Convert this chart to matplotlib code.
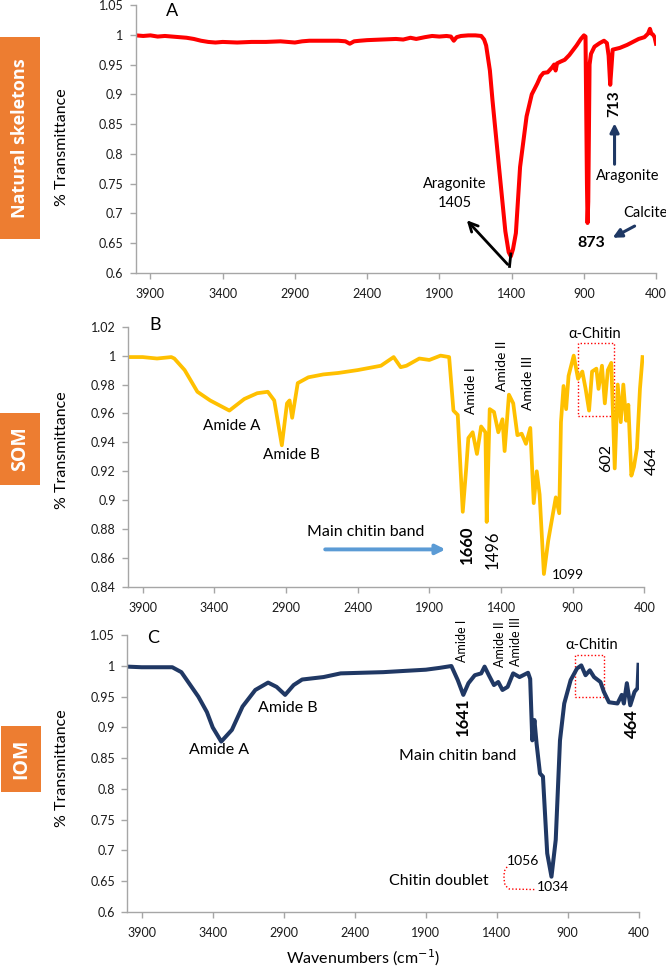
import matplotlib
matplotlib.use('Agg')
import matplotlib.pyplot as plt
from matplotlib.patches import Rectangle

plt.rcParams['font.family'] = ['Lato', 'DejaVu Sans']

# ---------------- data ----------------
x_ticks = [3900, 3400, 2900, 2400, 1900, 1400, 900, 400]

# Panel A: natural skeletons
A_wn = [4000, 3950, 3900, 3850, 3800, 3750, 3700, 3650, 3600, 3550, 3500, 3450, 3400, 3300, 3200, 3100,
        3000, 2950, 2900, 2850, 2800, 2700, 2600, 2550, 2520, 2490, 2450, 2400, 2300, 2200, 2150, 2100,
        2060, 2000, 1950, 1900, 1850, 1820, 1800, 1780, 1750, 1700, 1650, 1610, 1590, 1576, 1550, 1532,
        1487, 1443, 1420, 1405, 1390, 1370, 1341, 1296, 1260, 1222, 1200, 1179, 1150, 1120, 1105, 1095,
        1085, 1060, 1032, 1000, 950, 920, 899, 888, 878, 874, 869, 860, 850, 826, 790, 760, 740, 728,
        717, 710, 700, 650, 600, 560, 520, 480, 455, 442, 432, 420, 410, 400]
A_t = [0.999, 0.998, 0.999, 0.997, 0.998, 0.997, 0.996, 0.995, 0.993, 0.990, 0.988, 0.987, 0.988, 0.987,
       0.988, 0.988, 0.989, 0.988, 0.987, 0.989, 0.990, 0.990, 0.990, 0.989, 0.985, 0.989, 0.990, 0.991,
       0.992, 0.993, 0.992, 0.995, 0.993, 0.996, 0.998, 0.997, 0.998, 0.997, 0.990, 0.996, 0.998, 0.999,
       0.999, 0.998, 0.992, 0.982, 0.940, 0.890, 0.778, 0.670, 0.635, 0.628, 0.640, 0.667, 0.778, 0.863,
       0.900, 0.918, 0.930, 0.936, 0.937, 0.945, 0.950, 0.940, 0.952, 0.955, 0.958, 0.966, 0.982, 0.993,
       0.999, 0.997, 0.750, 0.684, 0.720, 0.950, 0.968, 0.980, 0.986, 0.990, 0.986, 0.965, 0.916, 0.940,
       0.975, 0.978, 0.983, 0.988, 0.993, 0.996, 1.002, 1.010, 1.002, 1.000, 0.996, 0.985]

# Panel B: SOM
B_wn = [4000, 3900, 3800, 3700, 3679, 3607, 3518, 3429, 3295, 3191, 3101, 3027, 2982, 2929, 2893, 2875,
        2857, 2818, 2744, 2640, 2536, 2400, 2238, 2149, 2100, 2060, 1970, 1900, 1822, 1762, 1732, 1702,
        1667, 1643, 1628, 1598, 1568, 1539, 1509, 1500, 1479, 1449, 1419, 1390, 1375, 1345, 1315, 1286,
        1256, 1226, 1196, 1172, 1151, 1131, 1101, 1071, 1048, 1018, 994, 982, 964, 946, 929, 893, 863,
        833, 810, 786, 765, 735, 720, 696, 676, 655, 631, 607, 586, 565, 547, 527, 512, 491, 473, 452,
        431, 413]
B_t = [0.999, 0.999, 0.998, 0.999, 0.998, 0.990, 0.975, 0.969, 0.962, 0.970, 0.974, 0.975, 0.969, 0.938,
       0.967, 0.969, 0.957, 0.981, 0.985, 0.987, 0.988, 0.990, 0.993, 0.999, 0.992, 0.993, 0.998, 0.997,
       1.000, 0.999, 0.962, 0.959, 0.892, 0.922, 0.943, 0.947, 0.932, 0.951, 0.947, 0.885, 0.963, 0.961,
       0.947, 0.956, 0.934, 0.973, 0.967, 0.945, 0.946, 0.939, 0.950, 0.898, 0.920, 0.904, 0.849, 0.872,
       0.885, 0.902, 0.891, 0.954, 0.979, 0.963, 0.986, 1.000, 0.984, 0.989, 0.977, 0.962, 0.989, 0.991,
       0.977, 0.993, 0.967, 0.990, 0.995, 0.922, 0.980, 0.954, 0.980, 0.955, 0.966, 0.917, 0.923, 0.936,
       0.977, 0.999]

# Panel C: IOM
C_wn = [4000, 3900, 3800, 3684, 3620, 3560, 3500, 3440, 3399, 3339, 3264, 3189, 3099, 3009, 2949, 2889,
        2829, 2769, 2619, 2498, 2350, 2198, 2050, 1898, 1800, 1718, 1673, 1634, 1598, 1553, 1508, 1484,
        1454, 1418, 1388, 1358, 1322, 1283, 1238, 1178, 1163, 1148, 1133, 1118, 1094, 1073, 1043, 1013,
        983, 953, 923, 878, 833, 803, 773, 743, 713, 668, 644, 608, 548, 518, 503, 482, 458, 428, 407, 400]
C_t = [0.999, 0.998, 0.998, 0.998, 0.990, 0.970, 0.950, 0.925, 0.900, 0.877, 0.896, 0.934, 0.961, 0.973,
       0.966, 0.953, 0.969, 0.978, 0.982, 0.988, 0.989, 0.990, 0.992, 0.994, 0.997, 1.000, 0.977, 0.953,
       0.972, 0.985, 0.988, 0.999, 0.985, 0.969, 0.974, 0.961, 0.966, 0.988, 0.982, 0.989, 0.979, 0.879,
       0.912, 0.874, 0.825, 0.820, 0.695, 0.657, 0.717, 0.879, 0.939, 0.977, 0.996, 1.001, 0.985, 0.993,
       0.982, 0.974, 0.958, 0.941, 0.939, 0.953, 0.939, 0.972, 0.936, 0.958, 0.964, 1.002]

# ---------------- figure ----------------
W, H = 666, 968
fig = plt.figure(figsize=(W / 100, H / 100), dpi=100)
ORANGE = '#ED7D31'
GRID = '#a6a6a6'


def axes_px(x0, y0, x1, y1):
    return fig.add_axes([x0 / W, 1 - y1 / H, (x1 - x0) / W, (y1 - y0) / H])


def style(ax, ylim, yticks):
    ax.set_xlim(4000, 400)
    ax.set_ylim(*ylim)
    ax.set_xticks(x_ticks)
    ax.set_xticklabels([str(v) for v in x_ticks])
    ax.set_yticks(yticks)
    ax.set_yticklabels([f"{round(v, 3):g}" for v in yticks])
    for s in ['top', 'right']:
        ax.spines[s].set_visible(False)
    for s in ['left', 'bottom']:
        ax.spines[s].set_color(GRID)
        ax.spines[s].set_linewidth(1.0)
    ax.tick_params(axis='both', direction='out', length=4, width=1, color=GRID,
                   labelsize=9, labelcolor='#1a1a1a')
    ax.tick_params(axis='y', pad=5)
    ax.tick_params(axis='x', pad=7)


def side_box(x0, y0, x1, y1, label, size):
    fig.patches.append(Rectangle((x0 / W, 1 - y1 / H), (x1 - x0) / W, (y1 - y0) / H,
                                 transform=fig.transFigure, facecolor=ORANGE, edgecolor='none'))
    fig.text((x0 + x1) / 2 / W, 1 - (y0 + y1) / 2 / H, label, rotation=90, ha='center', va='center',
             color='white', fontsize=size, fontweight='bold', family=['Open Sans', 'DejaVu Sans'])


def ylab(yc):
    fig.text(62 / W, 1 - yc / H, '% Transmittance', rotation=90, ha='center', va='center', fontsize=11.5)


# ---------- Panel A ----------
axA = axes_px(136, 5, 656, 273)
axA.plot(A_wn, A_t, color='#FF0000', lw=2.9, solid_joinstyle='round')
style(axA, (0.6, 1.05), [0.6, 0.65, 0.7, 0.75, 0.8, 0.85, 0.9, 0.95, 1.0, 1.05])
kw = dict(ha='center', va='center', clip_on=False)
axA.text(3753, 1.040, 'A', fontsize=13, **kw)
axA.text(1796, 0.749, 'Aragonite', fontsize=10.5, **kw)
axA.text(1796, 0.717, '1405', fontsize=10.5, **kw)
axA.plot([1405, 1414], [0.632, 0.611], color='black', lw=2)
axA.annotate('', xy=(1723, 0.692), xytext=(1414, 0.611),
             arrowprops=dict(arrowstyle='->', color='black', lw=2, mutation_scale=16))
axA.text(687, 0.885, '713', rotation=90, fontsize=11, fontweight='bold', **kw)
axA.annotate('', xy=(687, 0.856), xytext=(687, 0.778),
             arrowprops=dict(arrowstyle='-|>', color='#1F3864', lw=2.2, mutation_scale=13))
axA.text(596, 0.763, 'Aragonite', fontsize=10.5, **kw)
axA.text(473, 0.700, 'Calcite', fontsize=10.5, **kw)
axA.annotate('', xy=(717, 0.657), xytext=(531, 0.681),
             arrowprops=dict(arrowstyle='-|>', color='#1F3864', lw=2.2, mutation_scale=13))
axA.text(846, 0.651, '873', fontsize=11.5, fontweight='bold', **kw)

# ---------- Panel B ----------
axB = axes_px(128.3, 326.7, 644.4, 587)
axB.plot(B_wn, B_t, color='#FFC000', lw=2.7, solid_joinstyle='round')
style(axB, (0.84, 1.02), [0.84, 0.86, 0.88, 0.9, 0.92, 0.94, 0.96, 0.98, 1.0, 1.02])
axB.text(3813, 1.021, 'B', fontsize=13, **kw)
axB.text(3277, 0.951, 'Amide A', fontsize=11, **kw)
axB.text(2860, 0.931, 'Amide B', fontsize=11, **kw)
axB.text(1610, 0.976, 'Amide I', rotation=90, fontsize=10, **kw)
axB.text(1393, 0.993, 'Amide II', rotation=90, fontsize=10, **kw)
axB.text(1214, 0.981, 'Amide III', rotation=90, fontsize=10, **kw)
axB.text(747, 1.015, 'α-Chitin', fontsize=10.5, **kw)
axB.add_patch(Rectangle((613, 0.958), 866 - 613, 1.0085 - 0.958, fill=False,
                        edgecolor='red', lw=1, linestyle=(0, (1, 1.5)), clip_on=False))
axB.text(667, 0.929, '602', rotation=90, fontsize=11.5, **kw)
axB.text(345, 0.927, '464', rotation=90, fontsize=11.5, **kw)
axB.text(1640, 0.869, '1660', rotation=90, fontsize=12, fontweight='bold', **kw)
axB.text(1462, 0.866, '1496', rotation=90, fontsize=12, **kw)
axB.text(935, 0.848, '1099', fontsize=10, **kw)
axB.text(2345, 0.878, 'Main chitin band', fontsize=11.5, **kw)
axB.annotate('', xy=(1768, 0.866), xytext=(2646, 0.866),
             arrowprops=dict(arrowstyle='-|>', color='#5B9BD5', lw=2.8, mutation_scale=14))

# ---------- Panel C ----------
axC = axes_px(127.4, 635.3, 638.5, 911.7)
axC.plot(C_wn, C_t, color='#203864', lw=2.9, solid_joinstyle='round')
style(axC, (0.6, 1.05), [0.6, 0.65, 0.7, 0.75, 0.8, 0.85, 0.9, 0.95, 1.0, 1.05])
axC.text(3819, 1.045, 'C', fontsize=13, **kw)
axC.text(3353, 0.864, 'Amide A', fontsize=11.5, **kw)
axC.text(2867, 0.931, 'Amide B', fontsize=11.5, **kw)
axC.text(1640, 1.041, 'Amide I', rotation=90, fontsize=9, **kw)
axC.text(1377, 1.035, 'Amide II', rotation=90, fontsize=9, **kw)
axC.text(1265, 1.040, 'Amide III', rotation=90, fontsize=9, **kw)
axC.text(1635, 0.917, '1641', rotation=90, fontsize=12, fontweight='bold', **kw)
axC.text(1677, 0.853, 'Main chitin band', fontsize=11.5, **kw)
axC.text(731, 1.034, 'α-Chitin', fontsize=10.5, **kw)
axC.add_patch(Rectangle((641, 0.949), 845 - 641, 1.018 - 0.949, fill=False,
                        edgecolor='red', lw=1, linestyle=(0, (1, 1.5)), clip_on=False))
axC.text(445, 0.907, '464', rotation=90, fontsize=12, fontweight='bold', **kw)
axC.text(1211, 0.683, '1056', fontsize=10, **kw)
axC.text(1001, 0.641, '1034', fontsize=10, **kw)
axC.text(1806, 0.650, 'Chitin doublet', fontsize=11.5, **kw)
axC.plot([1326, 1345, 1348, 1340, 1311, 1124], [0.673, 0.666, 0.654, 0.643, 0.637, 0.636],
         color='red', lw=1, linestyle=(0, (1, 1.5)), clip_on=False)

fig.text(363 / W, 1 - 958 / H, 'Wavenumbers (cm$^{-1}$)', ha='center', va='center', fontsize=11.5)

# side boxes and y labels
side_box(0, 37, 39.5, 239, 'Natural skeletons', 13)
side_box(0, 413, 40.4, 485, 'SOM', 14)
side_box(1, 726, 41.2, 792, 'IOM', 14)
ylab(147)
ylab(450)
ylab(768)

fig.savefig('out.png', dpi=100)
